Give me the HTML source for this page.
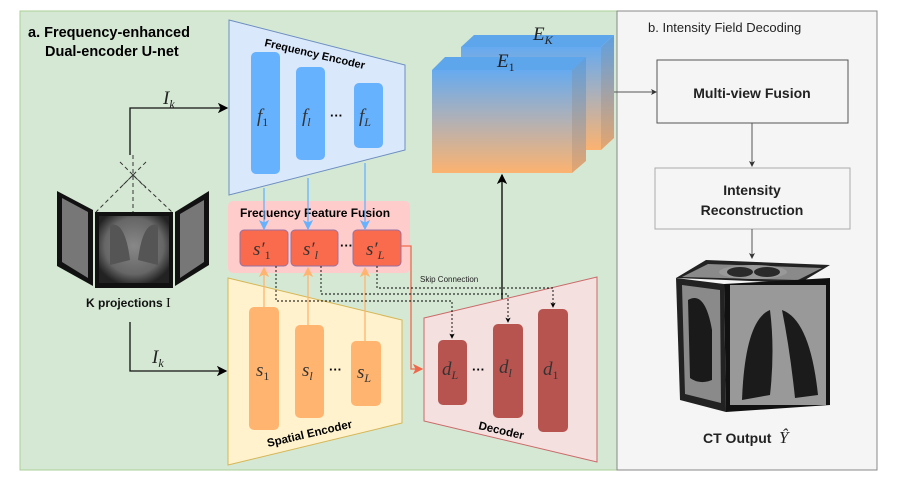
<!DOCTYPE html>
<html><head><meta charset="utf-8"><style>
body{margin:0;background:#fff}
svg{display:block}
.b{font-family:"Liberation Sans",sans-serif;font-weight:bold}
.m{font-family:"Liberation Serif",serif;font-style:italic}
</style></head><body>
<svg width="897" height="486" viewBox="0 0 897 486">
<defs>
<linearGradient id="eg" x1="0" y1="0" x2="0" y2="1"><stop offset="0" stop-color="#66aaf0"/><stop offset="0.5" stop-color="#b3b1b4"/><stop offset="1" stop-color="#fcb26f"/></linearGradient>
<linearGradient id="eg2" x1="0" y1="0" x2="0" y2="1"><stop offset="0" stop-color="#5e9fe0"/><stop offset="1" stop-color="#e5a56e"/></linearGradient>
<radialGradient id="xr" cx="0.5" cy="0.45" r="0.6"><stop offset="0" stop-color="#888"/><stop offset="0.7" stop-color="#666"/><stop offset="1" stop-color="#222"/></radialGradient>
<marker id="ab" markerWidth="8" markerHeight="8" refX="7" refY="4" orient="auto"><path d="M0,0 L8,4 L0,8 L2,4z" fill="#000"/></marker>
<marker id="ag" markerWidth="6" markerHeight="6" refX="5" refY="3" orient="auto"><path d="M0,0 L6,3 L0,6 L1.5,3z" fill="#333"/></marker>
<marker id="abl" markerWidth="8" markerHeight="8" refX="7" refY="4" orient="auto"><path d="M0,0 L8,4 L0,8 L2,4z" fill="#66b2ff"/></marker>
<marker id="aor" markerWidth="8" markerHeight="8" refX="7" refY="4" orient="auto"><path d="M0,0 L8,4 L0,8 L2,4z" fill="#ffb570"/></marker>
<marker id="ard" markerWidth="8" markerHeight="8" refX="7" refY="4" orient="auto"><path d="M0,0 L8,4 L0,8 L2,4z" fill="#f0684c"/></marker>
<marker id="asm" markerWidth="6" markerHeight="6" refX="5" refY="3" orient="auto"><path d="M0,0 L6,3 L0,6 L1.5,3z" fill="#000"/></marker>
</defs>
<rect x="20" y="11" width="597" height="459" fill="#d5e8d4" stroke="#a9cf94"/>
<rect x="617" y="11" width="260" height="459" fill="#f5f5f5" stroke="#888"/>
<text class="b" x="28" y="37" font-size="14.5">a. Frequency-enhanced</text>
<text class="b" x="45" y="56" font-size="14.5">Dual-encoder U-net</text>
<text x="648" y="32" font-family="Liberation Sans,sans-serif" font-size="13" fill="#222">b. Intensity Field Decoding</text>

<!-- frequency encoder -->
<polygon points="229,20 405,65 405,150 229,195" fill="#dae8fc" stroke="#6c8ebf"/>
<text class="b" font-size="11" transform="translate(264,46) rotate(13)">Frequency Encoder</text>
<rect x="251" y="52" width="29" height="122" rx="5" fill="#66b2ff"/>
<rect x="296" y="67" width="29" height="93" rx="5" fill="#66b2ff"/>
<rect x="354" y="83" width="29" height="65" rx="5" fill="#66b2ff"/>
<text class="m" x="257" y="122" font-size="19" fill="#333">f<tspan font-size="12" font-style="normal" dy="4">1</tspan></text>
<text class="m" x="302" y="122" font-size="19" fill="#333">f<tspan font-size="12" dy="4">l</tspan></text>
<text x="330" y="120" font-size="13" font-weight="bold" font-family="Liberation Sans,sans-serif">···</text>
<text class="m" x="359" y="122" font-size="19" fill="#333">f<tspan font-size="12" dy="4">L</tspan></text>

<!-- fusion -->
<rect x="228" y="201" width="182" height="72" rx="5" fill="#ffcccc"/>
<text class="b" x="240" y="217" font-size="12">Frequency Feature Fusion</text>
<rect x="240" y="230" width="48" height="36" rx="4" fill="#fa6a4c" stroke="#9673a6"/>
<rect x="291" y="230" width="47" height="36" rx="4" fill="#fa6a4c" stroke="#9673a6"/>
<rect x="353" y="230" width="48" height="36" rx="4" fill="#fa6a4c" stroke="#9673a6"/>
<text class="m" x="253" y="255" font-size="19" fill="#333">s′<tspan font-size="12" font-style="normal" dy="4">1</tspan></text>
<text class="m" x="303" y="255" font-size="19" fill="#333">s′<tspan font-size="12" dy="4">l</tspan></text>
<text x="340" y="250" font-size="13" font-weight="bold" font-family="Liberation Sans,sans-serif">···</text>
<text class="m" x="366" y="255" font-size="19" fill="#333">s′<tspan font-size="12" dy="4">L</tspan></text>
<g stroke="#66b2ff" stroke-width="1.3">
<line x1="264" y1="188" x2="264" y2="229" marker-end="url(#abl)"/>
<line x1="308" y1="178" x2="308" y2="229" marker-end="url(#abl)"/>
<line x1="365" y1="163" x2="365" y2="229" marker-end="url(#abl)"/>
</g>

<!-- spatial encoder -->
<polygon points="228,278 402,320 402,423 228,465" fill="#fff2cc" stroke="#d6b656"/>
<rect x="249" y="307" width="30" height="123" rx="5" fill="#ffb570"/>
<rect x="295" y="325" width="29" height="93" rx="5" fill="#ffb570"/>
<rect x="351" y="341" width="30" height="65" rx="5" fill="#ffb570"/>
<text class="m" x="256" y="376" font-size="19" fill="#333">s<tspan font-size="12" font-style="normal" dy="4">1</tspan></text>
<text class="m" x="302" y="376" font-size="19" fill="#333">s<tspan font-size="12" dy="4">l</tspan></text>
<text x="329" y="374" font-size="13" font-weight="bold" font-family="Liberation Sans,sans-serif">···</text>
<text class="m" x="357" y="378" font-size="19" fill="#333">s<tspan font-size="12" dy="4">L</tspan></text>
<text class="b" font-size="11.5" transform="translate(268,447) rotate(-13)">Spatial Encoder</text>
<g stroke="#ffb570" stroke-width="1.3">
<line x1="264" y1="307" x2="264" y2="268" marker-end="url(#aor)"/>
<line x1="308" y1="325" x2="308" y2="268" marker-end="url(#aor)"/>
<line x1="365" y1="341" x2="365" y2="268" marker-end="url(#aor)"/>
</g>

<!-- decoder -->
<polygon points="424,318 597,277 597,462 424,421" fill="#f4e0df" stroke="#c96a6a"/>
<rect x="438" y="340" width="29" height="65" rx="5" fill="#b85450"/>
<rect x="493" y="324" width="30" height="94" rx="5" fill="#b85450"/>
<rect x="538" y="309" width="30" height="123" rx="5" fill="#b85450"/>
<text class="m" x="442" y="375" font-size="19" fill="#333">d<tspan font-size="12" dy="4">L</tspan></text>
<text x="472" y="374" font-size="13" font-weight="bold" font-family="Liberation Sans,sans-serif">···</text>
<text class="m" x="499" y="373" font-size="19" fill="#333">d<tspan font-size="12" dy="4">l</tspan></text>
<text class="m" x="543" y="375" font-size="19" fill="#333">d<tspan font-size="12" font-style="normal" dy="4">1</tspan></text>
<text class="b" font-size="11.5" transform="translate(478,429) rotate(13)">Decoder</text>

<!-- red connection -->
<polyline points="401,246 411,246 411,369 422,369" fill="none" stroke="#f0684c" stroke-width="1.3" marker-end="url(#ard)"/>
<!-- skip -->
<g fill="none" stroke="#000" stroke-width="0.9" stroke-dasharray="2,2">
<polyline points="276,266 276,301 452,301 452,338" marker-end="url(#asm)"/>
<polyline points="321,266 321,294 508,294 508,322" marker-end="url(#asm)"/>
<polyline points="377,266 377,288 553,288 553,307" marker-end="url(#asm)"/>
</g>
<text x="420" y="282" font-size="8" font-family="Liberation Sans,sans-serif" fill="#222">Skip Connection</text>

<!-- E boxes -->
<polygon points="461,47 474,35 614,35 601,47" fill="#5ea6ec"/>
<polygon points="601,47 614,35 614,138 601,150" fill="url(#eg2)"/>
<rect x="461" y="47" width="140" height="103" fill="url(#eg)"/>
<polygon points="432,70 445,57 586,57 572,70" fill="#5ea6ec"/>
<polygon points="572,70 586,57 586,161 572,173" fill="url(#eg2)"/>
<rect x="432" y="70" width="140" height="103" fill="url(#eg)"/>
<text class="m" x="497" y="67" font-size="19" fill="#222">E<tspan font-size="12" font-style="normal" dy="4">1</tspan></text>
<text class="m" x="533" y="40" font-size="19" fill="#222">E<tspan font-size="12" dy="4">K</tspan></text>
<line x1="502" y1="299" x2="502" y2="175" stroke="#000" stroke-width="1.3" marker-end="url(#ab)"/>
<line x1="614" y1="92" x2="656" y2="92" stroke="#555" stroke-width="1" marker-end="url(#ag)"/>

<!-- right panel boxes -->
<rect x="657" y="60" width="191" height="63" fill="#f5f5f5" stroke="#555"/>
<text class="b" x="752" y="98" font-size="14" text-anchor="middle" fill="#222">Multi-view Fusion</text>
<rect x="655" y="168" width="195" height="61" fill="#f5f5f5" stroke="#aaa"/>
<text class="b" x="752" y="195" font-size="14" text-anchor="middle" fill="#222">Intensity</text>
<text class="b" x="752" y="215" font-size="14" text-anchor="middle" fill="#222">Reconstruction</text>
<line x1="752" y1="123" x2="752" y2="166" stroke="#555" marker-end="url(#ag)"/>
<line x1="752" y1="229" x2="752" y2="258" stroke="#555" marker-end="url(#ag)"/>

<!-- CT cube -->
<polygon points="676,278 706,260 830,265 800,283" fill="#222"/>
<polygon points="682,277 708,264 822,268 798,280" fill="#8a8a8a"/>
<ellipse cx="753" cy="272" rx="34" ry="7" fill="#999"/>
<ellipse cx="740" cy="272" rx="13" ry="5" fill="#2a2a2a"/>
<ellipse cx="767" cy="272" rx="13" ry="5" fill="#2a2a2a"/>
<polygon points="676,278 724,284 726,412 680,400" fill="#222"/>
<polygon points="682,285 720,290 721,403 685,394" fill="#8a8a8a"/>
<path d="M688,300 Q705,290 712,330 L712,380 Q700,385 690,378z" fill="#1a1a1a"/>
<polygon points="724,284 830,278 830,405 726,412" fill="#111"/>
<rect x="730" y="285" width="96" height="120" fill="#999"/>
<path d="M770,310 Q745,320 742,400 L770,395 Q775,350 770,310z" fill="#1b1b1b"/>
<path d="M782,310 Q810,320 818,395 L795,398 Q790,350 782,310z" fill="#1b1b1b"/>
<text class="b" x="703" y="443" font-size="14" fill="#222">CT Output</text>
<text class="m" x="779" y="443" font-size="17" fill="#222">Ŷ</text>

<!-- projections -->
<polygon points="57,191 93,210 93,286 57,266" fill="#111"/>
<polygon points="62,198 88,212 88,278 62,262" fill="#777"/>
<rect x="95" y="212" width="78" height="76" fill="#111"/>
<rect x="99" y="216" width="70" height="67" fill="url(#xr)"/>
<path d="M110,225 Q125,220 130,260 L110,265z M158,225 Q143,220 138,260 L158,265z" fill="#555"/>
<polygon points="175,212 209,191 209,265 175,286" fill="#111"/>
<polygon points="180,214 204,200 204,262 180,278" fill="#777"/>
<g stroke="#333" stroke-width="1" stroke-dasharray="4,3" fill="none">
<line x1="133" y1="175" x2="96" y2="212"/>
<line x1="133" y1="175" x2="172" y2="212"/>
<line x1="133" y1="155" x2="133" y2="212"/>
<line x1="120" y1="162" x2="146" y2="188"/>
<line x1="146" y1="162" x2="120" y2="188"/>
</g>
<text class="b" x="86" y="307" font-size="12" fill="#111">K projections <tspan font-family="Liberation Serif,serif" font-weight="normal" font-size="14">I</tspan></text>
<polyline points="130,155 130,108 227,108" fill="none" stroke="#111" stroke-width="1.3" marker-end="url(#ab)"/>
<text class="m" x="163" y="104" font-size="19" fill="#222">I<tspan font-size="12" dy="4">k</tspan></text>
<polyline points="130,322 130,371 226,371" fill="none" stroke="#111" stroke-width="1.3" marker-end="url(#ab)"/>
<text class="m" x="152" y="363" font-size="19" fill="#222">I<tspan font-size="12" dy="4">k</tspan></text>
</svg>
</body></html>
